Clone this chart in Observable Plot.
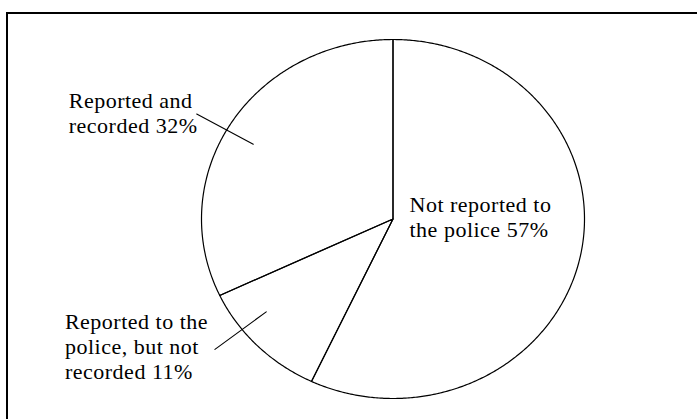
<!DOCTYPE html>
<html>
<head>
<meta charset="utf-8">
<script src="https://cdn.jsdelivr.net/npm/d3@7"></script>
<script src="https://cdn.jsdelivr.net/npm/@observablehq/plot@0.6"></script>
<style>
  html, body { margin: 0; padding: 0; background: #fff; }
  #wrap { position: relative; width: 697px; height: 419px; overflow: hidden; }
  #frame { position: absolute; left: 6px; top: 12px; width: 800px; height: 600px;
           border-top: 2.5px solid #000; border-left: 2.5px solid #000; pointer-events: none; }
</style>
</head>
<body>
<div id="wrap"><div id="frame"></div></div>
<script>
// ---- data ----
const categories = [
  "Not reported to the police",
  "Reported to the police, but not recorded",
  "Reported and recorded"
];
const shares = [57, 11, 32];
const labels = [
  "Not reported to\nthe police 57%",
  "Reported to the\npolice, but not\nrecorded 11%",
  "Reported and\nrecorded 32%"
];

// ---- layout (not data) ----
const leaderShiftDeg = [0, 7, -2.7];        // nudge of leader lines from slice mid-angle
const leaderRadii = [0.84, 1.18];
const labelDx = [16.5, -150, -128];
const labelDy = [-2.5, -3.5, -2];

// ---- geometry from data ----
const total = d3.sum(shares);
const slices = [];
let acc = 0;
shares.forEach((v, i) => {
  const a0 = acc / total * 2 * Math.PI;
  acc += v;
  const a1 = acc / total * 2 * Math.PI;
  slices.push({category: categories[i], a0, a1, mid: (a0 + a1) / 2, i});
});
const pt = (a, r) => ({x: r * Math.sin(a), y: r * Math.cos(a)});

const outline = [];
for (const s of slices) {
  outline.push({...pt(0, 0), k: s.category});
  const n = Math.max(2, Math.ceil((s.a1 - s.a0) / (Math.PI / 360)));
  for (let j = 0; j <= n; ++j) outline.push({...pt(s.a0 + (s.a1 - s.a0) * j / n, 1), k: s.category});
  outline.push({...pt(0, 0), k: s.category});
}

const leaders = [];
const textPts = [];
for (const s of slices) {
  if (s.i === 0) {
    textPts.push({...pt(0, 0), label: labels[s.i], dx: labelDx[s.i], dy: labelDy[s.i]});
    continue;
  }
  const a = s.mid + leaderShiftDeg[s.i] * Math.PI / 180;
  leaders.push({...pt(a, leaderRadii[0]), k: s.category});
  const outer = pt(a, leaderRadii[1]);
  leaders.push({...outer, k: s.category});
  textPts.push({...outer, label: labels[s.i], dx: labelDx[s.i], dy: labelDy[s.i]});
}

const chart = Plot.plot({
  width: 697,
  height: 419,
  marginLeft: 201,
  marginRight: 113,
  marginTop: 39,
  marginBottom: 21,
  x: {domain: [-1, 1], axis: null},
  y: {domain: [-1, 1], axis: null},
  style: {background: "transparent", letterSpacing: "0.5px"},
  marks: [
    Plot.line(outline, {x: "x", y: "y", z: "k", stroke: "#000", strokeWidth: 1.2, curve: "linear"}),
    Plot.line(leaders, {x: "x", y: "y", z: "k", stroke: "#000", strokeWidth: 1.1}),
    ...textPts.map(t => Plot.text([t], {
      x: "x", y: "y", text: "label", textAnchor: "start", lineAnchor: "middle",
      lineHeight: 1.15, dx: t.dx, dy: t.dy,
      fontFamily: "Liberation Serif", fontSize: 22, fill: "#000"
    }))
  ]
});
chart.style.position = "absolute";
chart.style.left = "0";
chart.style.top = "0";
document.getElementById("wrap").prepend(chart);
</script>
</body>
</html>
